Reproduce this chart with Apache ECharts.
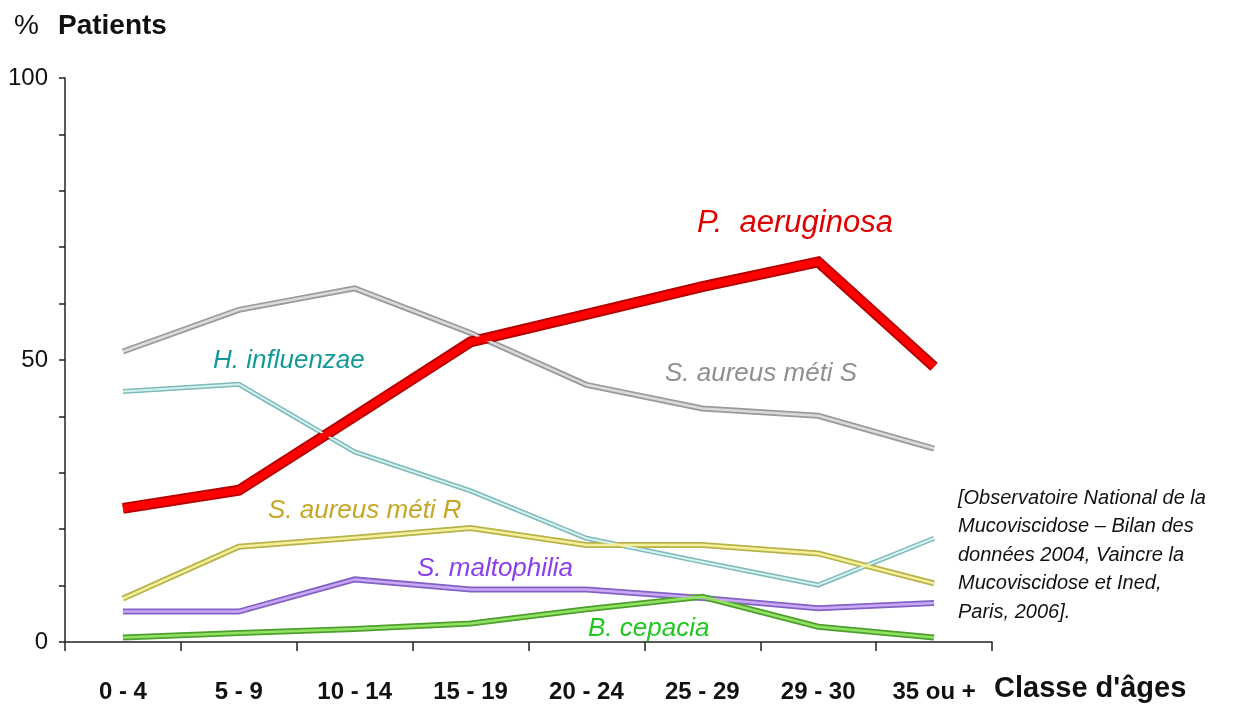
<!DOCTYPE html>
<html>
<head>
<meta charset="utf-8">
<script src="https://cdn.jsdelivr.net/npm/echarts@6/dist/echarts.min.js"></script>
<style>
html,body{margin:0;padding:0;background:#fff;}
#chart{width:1241px;height:705px;}
</style>
</head>
<body>
<div id="chart"></div>
<script>
// ---- data ----
const categories = ['0 - 4', '5 - 9', '10 - 14', '15 - 19', '20 - 24', '25 - 29', '29 - 30', '35 ou +'];
const yTickLabels = [0, 50, 100];
const pAeruginosa   = [23.7, 26.9, 40.0, 53.2, 58.1, 63.0, 67.4, 48.8];
const sAureusMetiS  = [51.5, 58.9, 62.7, 54.8, 45.6, 41.4, 40.1, 34.3];
const hInfluenzae   = [44.4, 45.7, 33.7, 26.8, 18.4, 14.2, 10.1, 18.4];
const sAureusMetiR  = [7.7, 16.9, 18.5, 20.2, 17.2, 17.2, 15.7, 10.4];
const sMaltophilia  = [5.4, 5.4, 11.1, 9.3, 9.3, 7.8, 6.0, 6.9];
const bCepacia      = [0.8, 1.6, 2.3, 3.3, 5.8, 8.0, 2.7, 0.8];

// ---- styles ----
const lines = [
  { name: 'S. aureus méti S', data: sAureusMetiS, edge: '#9a9a9a', inner: '#dadada', w: 6, iw: 2.5 },
  { name: 'H. influenzae',    data: hInfluenzae,  edge: '#7fb9b9', inner: '#d4f2f2', w: 5, iw: 2 },
  { name: 'S. aureus méti R', data: sAureusMetiR, edge: '#b9b24a', inner: '#f2f09a', w: 6, iw: 2.5 },
  { name: 'S. maltophilia',   data: sMaltophilia, edge: '#8462c4', inner: '#c9a9f7', w: 6, iw: 2.5 },
  { name: 'B. cepacia',       data: bCepacia,     edge: '#4f9f2f', inner: '#92e262', w: 6, iw: 2.5 },
  { name: 'P. aeruginosa',    data: pAeruginosa,  edge: '#b80000', inner: '#ff0000', w: 11, iw: 7 }
];

const series = [];
lines.forEach(function (l) {
  series.push({
    name: l.name, type: 'line', data: l.data, symbol: 'none', silent: true,
    lineStyle: { color: l.edge, width: l.w, join: 'miter', cap: 'butt' }, z: 2
  });
  series.push({
    name: l.name + ' ', type: 'line', data: l.data, symbol: 'none', silent: true,
    lineStyle: { color: l.inner, width: l.iw, join: 'miter', cap: 'butt' }, z: 3
  });
});

const chart = echarts.init(document.getElementById('chart'), null, { renderer: 'canvas' });

const italic = function (size, color) {
  return { fontFamily: 'Liberation Sans, Arial, sans-serif', fontStyle: 'italic', fontSize: size, fill: color };
};

chart.setOption({
  animation: false,
  backgroundColor: '#ffffff',
  grid: { left: 65, top: 78, width: 927, height: 564, containLabel: false },
  xAxis: {
    type: 'category',
    data: categories,
    boundaryGap: true,
    axisLine: { lineStyle: { color: '#222', width: 1.5 } },
    axisTick: { show: true, length: 9, inside: false, alignWithLabel: false, lineStyle: { color: '#222', width: 1.5 } },
    axisLabel: {
      interval: 0, margin: 38, color: '#111',
      fontFamily: 'Liberation Sans, Arial, sans-serif',
      fontWeight: 'bold', fontSize: 24
    },
    splitLine: { show: false }
  },
  yAxis: {
    type: 'value', min: 0, max: 100, interval: 10,
    axisLine: { show: true, lineStyle: { color: '#222', width: 1.5 } },
    axisTick: { show: true, length: 6, inside: false, lineStyle: { color: '#222', width: 1.5 } },
    axisLabel: {
      margin: 17, color: '#111',
      fontFamily: 'Liberation Sans, Arial, sans-serif',
      fontSize: 24,
      formatter: function (v) { return yTickLabels.indexOf(v) >= 0 ? String(v) : ''; }
    },
    splitLine: { show: false }
  },
  series: series,
  graphic: [
    { type: 'text', left: 14, top: 12, style: { text: '%', fontFamily: 'Liberation Sans, Arial, sans-serif', fontSize: 28, fill: '#111' } },
    { type: 'text', left: 58, top: 12, style: { text: 'Patients', fontFamily: 'Liberation Sans, Arial, sans-serif', fontWeight: 'bold', fontSize: 28, fill: '#111' } },
    { type: 'text', left: 994, top: 674, style: { text: "Classe d'âges", fontFamily: 'Liberation Sans, Arial, sans-serif', fontWeight: 'bold', fontSize: 29, fill: '#111' } },
    { type: 'text', left: 697, top: 208, style: Object.assign({ text: 'P.  aeruginosa' }, italic(31, '#e00000')) },
    { type: 'text', left: 665, top: 361, style: Object.assign({ text: 'S. aureus méti S' }, italic(26, '#8f8f8f')) },
    { type: 'text', left: 213, top: 348, style: Object.assign({ text: 'H. influenzae' }, italic(26, '#129a9a')) },
    { type: 'text', left: 268, top: 498, style: Object.assign({ text: 'S. aureus méti R' }, italic(26, '#c6a624')) },
    { type: 'text', left: 417, top: 556, style: Object.assign({ text: 'S. maltophilia' }, italic(26, '#8a3ef0')) },
    { type: 'text', left: 588, top: 616, style: Object.assign({ text: 'B. cepacia' }, italic(26, '#1fc81f')) },
    { type: 'text', left: 958, top: 484, style: {
        text: '[Observatoire National de la\nMucoviscidose – Bilan des\ndonnées 2004, Vaincre la\nMucoviscidose et Ined,\nParis, 2006].',
        fontFamily: 'Liberation Sans, Arial, sans-serif', fontStyle: 'italic', fontSize: 20, lineHeight: 28.5, fill: '#111' } }
  ]
});
</script>
</body>
</html>
